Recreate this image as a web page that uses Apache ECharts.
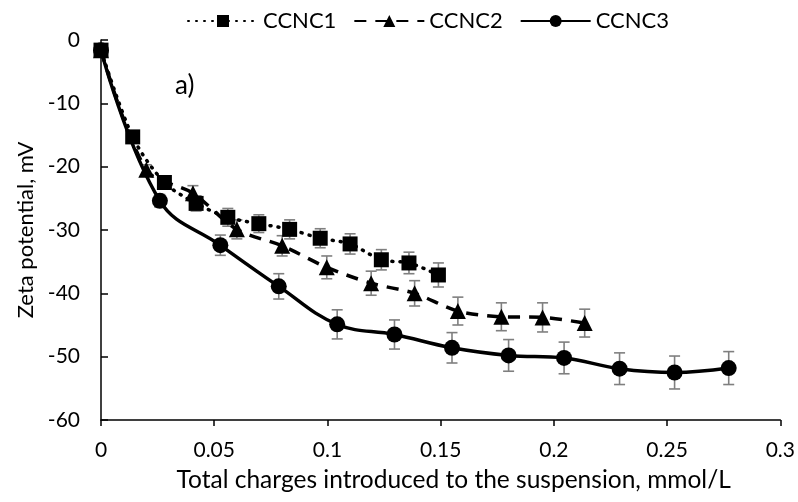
<!DOCTYPE html>
<html><head><meta charset="utf-8">
<script src="https://cdn.jsdelivr.net/npm/echarts@6/dist/echarts.min.js"></script>
<style>html,body{margin:0;padding:0;background:#fff}#c{width:798px;height:502px}</style>
</head><body><div id="c"></div>
<script>
// CCNC1 (squares, dotted)
const x1 = [0, 0.014, 0.028, 0.042, 0.056, 0.0697, 0.0833, 0.0968, 0.110, 0.1238, 0.136, 0.149];
const y1 = [-1.6, -15.3, -22.5, -25.8, -28.0, -29.0, -29.9, -31.3, -32.2, -34.7, -35.2, -37.1];
const e1 = [0.4, 0.7, 1.0, 1.2, 1.4, 1.4, 1.5, 1.5, 1.6, 1.6, 1.7, 1.9];
// CCNC2 (triangles, dashed)
const x2 = [0, 0.020, 0.0406, 0.060, 0.080, 0.0997, 0.1193, 0.1385, 0.1576, 0.1768, 0.195, 0.2136];
const y2 = [-1.6, -20.5, -24.2, -29.9, -32.5, -35.9, -38.4, -40.0, -42.8, -43.7, -43.8, -44.7];
const e2 = [0.4, 0.8, 1.2, 1.5, 1.6, 1.8, 1.9, 2.0, 2.2, 2.2, 2.3, 2.2];
// CCNC3 (circles, solid)
const x3 = [0, 0.026, 0.0527, 0.0785, 0.1043, 0.1296, 0.155, 0.180, 0.2045, 0.229, 0.2533, 0.2772];
const y3 = [-1.6, -25.4, -32.4, -38.9, -44.9, -46.5, -48.6, -49.8, -50.2, -51.9, -52.5, -51.8];
const e3 = [0.4, 1.0, 1.6, 2.0, 2.3, 2.3, 2.4, 2.5, 2.5, 2.5, 2.6, 2.6];
const xTicks = [0, 0.05, 0.1, 0.15, 0.2, 0.25, 0.3];
const yTicks = [-60, -50, -40, -30, -20, -10, 0];

const FONT = 'Lato';
const pts = (xs, ys) => xs.map((v, i) => [v, ys[i]]);
const errs = (xs, ys, es) => xs.map((v, i) => [v, ys[i] - es[i], ys[i] + es[i]]);
function errSeries(data) {
  return {
    type: 'custom', z: 1, silent: true,
    data: data,
    encode: { x: 0, y: [1, 2] },
    renderItem: function (params, api) {
      const x = api.value(0);
      const lo = api.coord([x, api.value(1)]);
      const hi = api.coord([x, api.value(2)]);
      const w = 5.5;
      const st = { stroke: '#7f7f7f', lineWidth: 1.6 };
      return { type: 'group', children: [
        { type: 'line', shape: { x1: lo[0], y1: lo[1], x2: hi[0], y2: hi[1] }, style: st },
        { type: 'line', shape: { x1: lo[0] - w, y1: lo[1], x2: lo[0] + w, y2: lo[1] }, style: st },
        { type: 'line', shape: { x1: hi[0] - w, y1: hi[1], x2: hi[0] + w, y2: hi[1] }, style: st }
      ]};
    }
  };
}

const chart = echarts.init(document.getElementById('c'), null, { renderer: 'canvas' });
chart.setOption({
  animation: false,
  backgroundColor: '#fff',
  textStyle: { fontFamily: FONT },
  grid: { left: 101, right: 17.5, top: 40, bottom: 82, containLabel: false },
  legend: {
    top: 5, left: 182,
    itemWidth: 70, itemHeight: 15, itemGap: 17,
    textStyle: { fontFamily: FONT, fontSize: 22, color: '#000' },
    data: ['CCNC1', 'CCNC2', 'CCNC3']
  },
  graphic: [{ type: 'text', left: 175, top: 73, style: { text: 'a)', font: '26px Lato', fill: '#000' } }],
  xAxis: {
    type: 'value', min: 0, max: 0.3, interval: 0.05,
    name: 'Total charges introduced to the suspension, mmol/L',
    nameLocation: 'middle', nameGap: 48,
    nameTextStyle: { fontFamily: FONT, fontSize: 24.5, color: '#000', padding: [0, 0, 0, 26] },
    axisLine: { show: true, onZero: false, lineStyle: { color: '#000', width: 1.5 } },
    axisTick: { show: true, length: 6, lineStyle: { color: '#000', width: 1.5 } },
    axisLabel: { fontFamily: FONT, fontSize: 21, color: '#000', margin: 20,
      formatter: v => { const t = xTicks.find(k => Math.abs(k - v) < 1e-9); return t === undefined ? '' : String(t); } },
    splitLine: { show: false }
  },
  yAxis: {
    type: 'value', min: -60, max: 0, interval: 10,
    name: 'Zeta potential, mV',
    nameLocation: 'middle', nameGap: 63, nameRotate: 90,
    nameTextStyle: { fontFamily: FONT, fontSize: 22, color: '#000' },
    axisLine: { show: true, onZero: false, lineStyle: { color: '#000', width: 1.5 } },
    axisTick: { show: true, inside: true, length: 7, lineStyle: { color: '#000', width: 1.5 } },
    axisLabel: { fontFamily: FONT, fontSize: 21, color: '#000', margin: 21,
      formatter: v => { const t = yTicks.find(k => Math.abs(k - v) < 1e-9); return t === undefined ? '' : String(t); } },
    splitLine: { show: false }
  },
  series: [
    errSeries(errs(x1, y1, e1)),
    errSeries(errs(x2, y2, e2)),
    errSeries(errs(x3, y3, e3)),
    { name: 'CCNC1', type: 'line', z: 3, data: pts(x1, y1), smooth: 0.3,
      symbol: 'rect', symbolSize: 15,
      lineStyle: { color: '#000', width: 3.5, type: [1, 7], cap: 'round' },
      itemStyle: { color: '#000' } },
    { name: 'CCNC2', type: 'line', z: 3, data: pts(x2, y2), smooth: 0.3,
      symbol: 'triangle', symbolSize: 16,
      lineStyle: { color: '#000', width: 3.5, type: [12, 9] },
      itemStyle: { color: '#000' } },
    { name: 'CCNC3', type: 'line', z: 4, data: pts(x3, y3), smooth: 0.4,
      symbol: 'circle', symbolSize: 16,
      lineStyle: { color: '#000', width: 3.5 },
      itemStyle: { color: '#000' } }
  ]
});
</script></body></html>
